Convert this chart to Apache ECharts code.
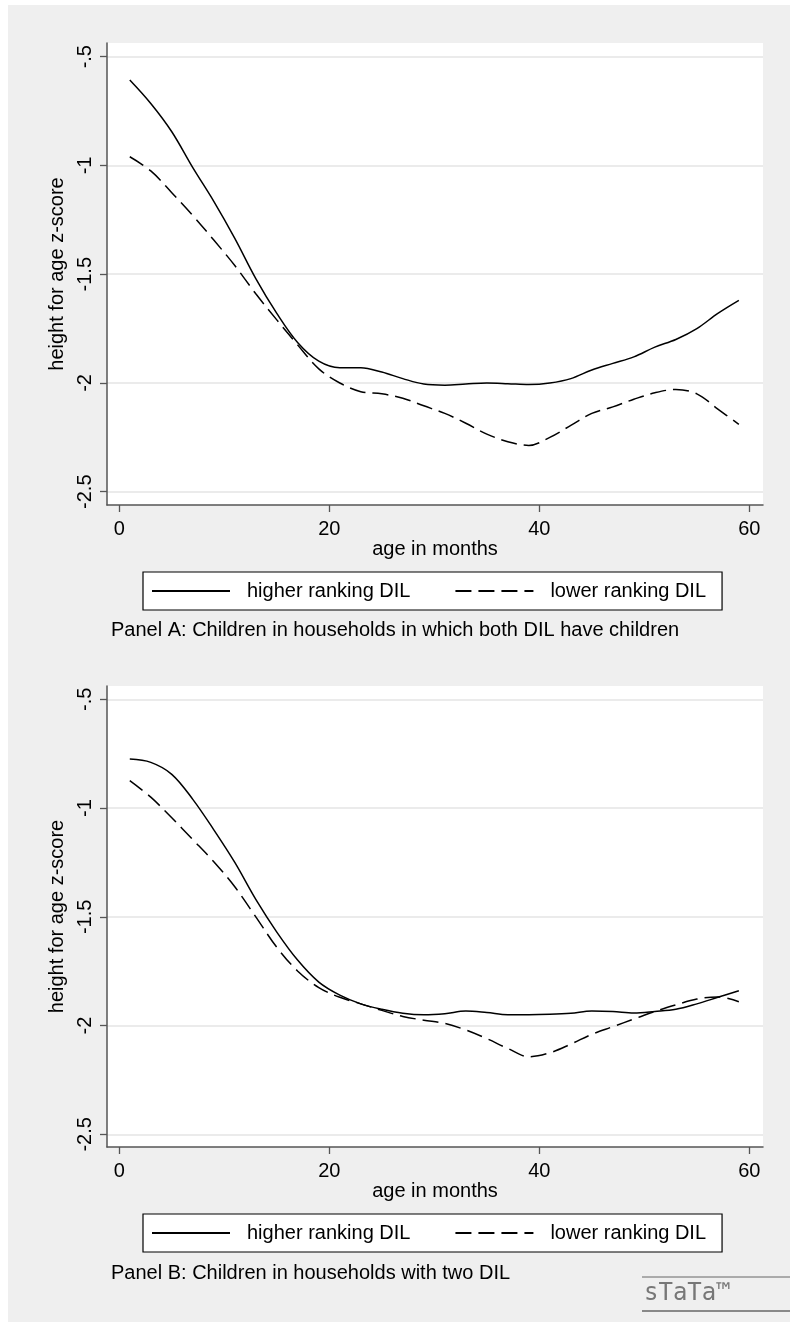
<!DOCTYPE html>
<html>
<head>
<meta charset="utf-8">
<script src="https://cdn.jsdelivr.net/npm/echarts@6/dist/echarts.min.js"></script>
<style>html,body{margin:0;padding:0;background:#fff;}#c{width:790px;height:1322px;}</style>
</head>
<body>
<div id="c"></div>
<script>
// ---- data ----
const ages = [1,3,5,7,9,11,13,15,17,19,21,23,25,27,29,31,33,35,37,39,41,43,45,47,49,51,53,55,57,59];
const panelA_higher = [-0.607,-0.715,-0.845,-1.01,-1.165,-1.335,-1.52,-1.68,-1.815,-1.90,-1.93,-1.93,-1.95,-1.98,-2.005,-2.01,-2.005,-2.0,-2.003,-2.007,-2.0,-1.98,-1.94,-1.91,-1.88,-1.835,-1.80,-1.75,-1.68,-1.62];
const panelA_lower  = [-0.96,-1.025,-1.125,-1.23,-1.343,-1.46,-1.59,-1.71,-1.826,-1.935,-2.0,-2.04,-2.05,-2.07,-2.105,-2.14,-2.185,-2.235,-2.27,-2.287,-2.25,-2.195,-2.14,-2.11,-2.075,-2.045,-2.03,-2.05,-2.12,-2.19];
const panelB_higher = [-0.775,-0.79,-0.845,-0.96,-1.10,-1.25,-1.42,-1.57,-1.70,-1.80,-1.86,-1.90,-1.925,-1.943,-1.95,-1.945,-1.933,-1.94,-1.95,-1.95,-1.948,-1.943,-1.933,-1.935,-1.942,-1.935,-1.925,-1.90,-1.87,-1.84];
const panelB_lower  = [-0.874,-0.95,-1.045,-1.145,-1.247,-1.362,-1.50,-1.64,-1.75,-1.825,-1.87,-1.90,-1.93,-1.958,-1.975,-1.99,-2.02,-2.06,-2.105,-2.143,-2.125,-2.085,-2.04,-2.005,-1.97,-1.935,-1.905,-1.878,-1.868,-1.89];
const seriesNames = ['higher ranking DIL','lower ranking DIL'];
const yTicks = [-2.5,-2,-1.5,-1,-0.5];
const yTickLabels = ['-2.5','-2','-1.5','-1','-.5'];
const xTicks = [0,20,40,60];
const xTickLabels = ['0','20','40','60'];
const captions = ['Panel A: Children in households in which both DIL have children','Panel B: Children in households with two DIL'];
const yTitle = 'height for age z-score';
const xTitle = 'age in months';

// ---- chart ----
const FONT = '"Liberation Sans", Arial, Helvetica, sans-serif';
const chart = echarts.init(document.getElementById('c'), null, {renderer:'canvas'});
const pair = (xs, ys) => xs.map((x,i)=>[x, ys[i]]);
const grids = [
  {left:107, top:43, width:656, height:462},
  {left:107, top:686, width:656, height:461}
];
function xAxis(gi){
  return {type:'value', gridIndex:gi, min:-1.17, max:61.3,
    name:xTitle, nameLocation:'middle', nameGap:34,
    nameTextStyle:{fontSize:20, color:'#000', fontFamily:FONT},
    axisLine:{show:true, onZero:false, lineStyle:{color:'#555', width:1.5}},
    axisTick:{show:true, length:7, lineStyle:{color:'#555', width:1.3}, customValues:xTicks},
    axisLabel:{fontSize:20, color:'#000', fontFamily:FONT, margin:14, customValues:xTicks,
      formatter:v=>xTickLabels[xTicks.indexOf(v)]},
    splitLine:{show:false}};
}
function yAxis(gi, mn, mx){
  return {type:'value', gridIndex:gi, min:mn, max:mx,
    name:yTitle, nameLocation:'middle', nameGap:36,
    nameTextStyle:{fontSize:20, color:'#000', fontFamily:FONT},
    axisLine:{show:true, onZero:false, lineStyle:{color:'#555', width:1.5}},
    axisTick:{show:true, length:7, lineStyle:{color:'#555', width:1.3}, customValues:yTicks},
    axisLabel:{fontSize:20, color:'#000', fontFamily:FONT, rotate:90, margin:12, customValues:yTicks,
      formatter:v=>yTickLabels[yTicks.indexOf(v)]},
    splitLine:{show:true, lineStyle:{color:'#e4e4e4', width:1.5}}};
}
function line(name, gi, data, dashed){
  return {type:'line', name:name, xAxisIndex:gi, yAxisIndex:gi, data:data,
    showSymbol:false, symbol:'none', smooth:0.35, silent:true,
    lineStyle:{color:'#000', width:1.5, type: dashed ? [16,7] : 'solid'},
    itemStyle:{color:'#000'}};
}
function legend(top){
  return {left:143, top:top, orient:'horizontal', data:seriesNames,
    backgroundColor:'#fff', borderColor:'#000', borderWidth:1.2, borderRadius:0,
    padding:[9,16,9,8], itemWidth:78, itemHeight:16, itemGap:44,
    selectedMode:false,
    itemStyle:{color:'rgba(0,0,0,0)', borderWidth:0, opacity:0},
    textStyle:{fontSize:20, color:'#000', fontFamily:FONT, padding:[0,0,0,12]}};
}
chart.setOption({
  animation:false,
  backgroundColor:'#fff',
  graphic:[
    {type:'rect', shape:{x:8,y:5,width:782,height:1317}, style:{fill:'#efefef'}, z:-10, silent:true},
    {type:'text', left:111, top:620, style:{text:captions[0], fontSize:20, fill:'#000', fontFamily:FONT}},
    {type:'text', left:111, top:1263, style:{text:captions[1], fontSize:20, fill:'#000', fontFamily:FONT}},
    {type:'line', shape:{x1:642,y1:1277,x2:790,y2:1277}, style:{stroke:'#666', lineWidth:1}},
    {type:'line', shape:{x1:642,y1:1311,x2:790,y2:1311}, style:{stroke:'#666', lineWidth:1.5}},
    {type:'text', left:644, top:1282, style:{text:'sTaTa\u2122', fontSize:24, fill:'#777', fontFamily:'"DejaVu Sans Mono", monospace', fontWeight:'lighter'}}
  ],
  grid:grids.map(g=>Object.assign({show:true, backgroundColor:'#fff', borderWidth:0, containLabel:false}, g)),
  xAxis:[xAxis(0), xAxis(1)],
  yAxis:[yAxis(0,-2.561,-0.437), yAxis(1,-2.558,-0.439)],
  legend:[legend(572), legend(1214)],
  series:[
    line(seriesNames[0],0,pair(ages,panelA_higher),false),
    line(seriesNames[1],0,pair(ages,panelA_lower),true),
    line(seriesNames[0],1,pair(ages,panelB_higher),false),
    line(seriesNames[1],1,pair(ages,panelB_lower),true)
  ]
});
</script>
</body>
</html>
